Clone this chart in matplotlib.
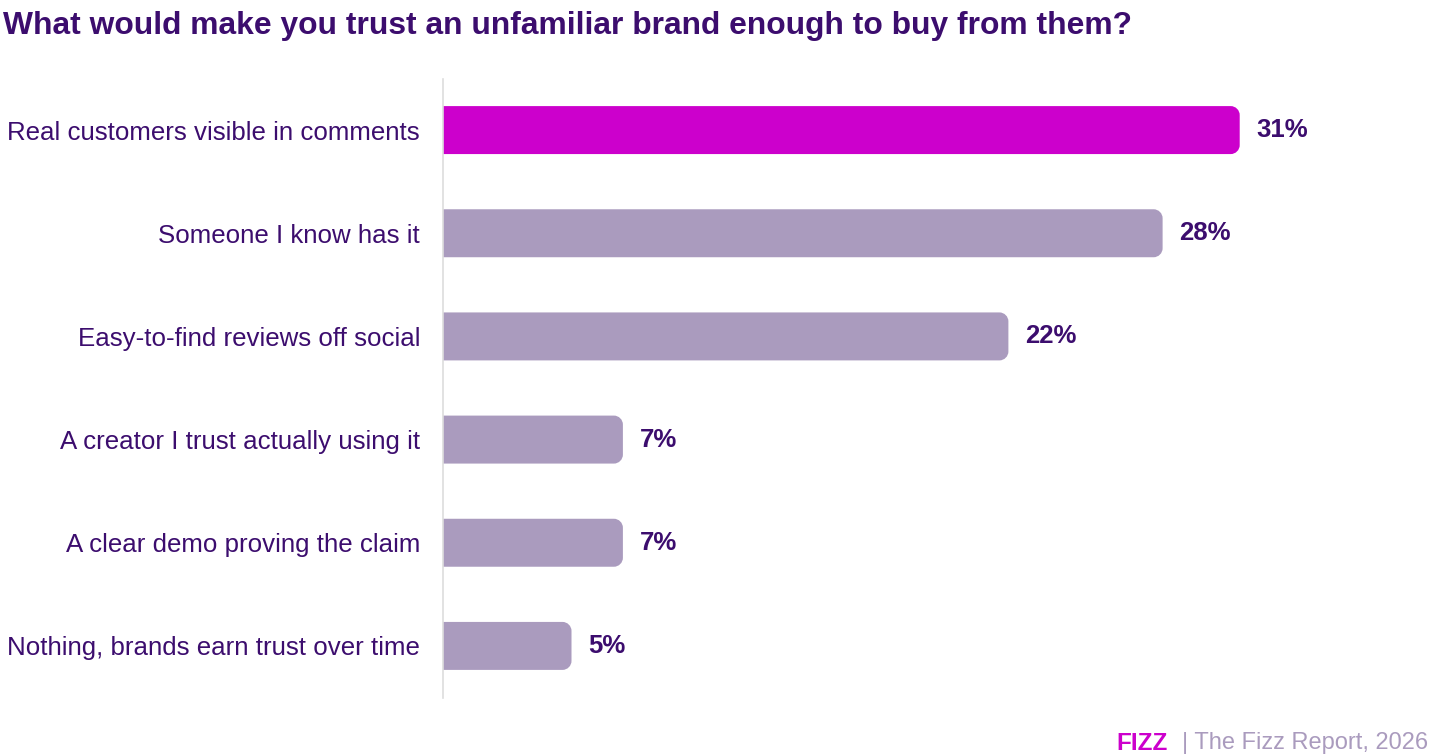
import matplotlib.pyplot as plt
from matplotlib.patches import PathPatch
from matplotlib.path import Path

plt.rcParams['font.family'] = ['Liberation Sans', 'DejaVu Sans']

# data
categories = [
    "Real customers visible in comments",
    "Someone I know has it",
    "Easy-to-find reviews off social",
    "A creator I trust actually using it",
    "A clear demo proving the claim",
    "Nothing, brands earn trust over time",
]
values = [31, 28, 22, 7, 7, 5]
highlight = [True, False, False, False, False, False]

dark = "#3C0D6E"
magenta = "#CC00CC"
muted = "#AA9BBE"

W, H = 1440, 756
fig = plt.figure(figsize=(W / 100, H / 100), dpi=100)
ax_left, ax_right = 443, 1440
ax_top, ax_bottom = 78.5, 697.5
ax = fig.add_axes([ax_left / W, 1 - ax_bottom / H,
                   (ax_right - ax_left) / W, (ax_bottom - ax_top) / H])

px_per_unit = 25.7
xmax = (ax_right - ax_left) / px_per_unit
ax.set_xlim(0, xmax)
ax.set_ylim(len(values) - 0.5, -0.5)
y_px_per_unit = (ax_bottom - ax_top) / len(values)

bar_h = 0.465
colors = [magenta if h else muted for h in highlight]
bars = ax.barh(range(len(values)), values, height=bar_h, color=colors)

# replace each bar by a shape with rounded right-hand corners
rx = 9 / px_per_unit
ry = 9 / y_px_per_unit
k = 0.5523
for b, c in zip(bars, colors):
    x0, y0, w, h = b.get_x(), b.get_y(), b.get_width(), b.get_height()
    x1, y1 = x0 + w, y0 + h
    b.set_visible(False)
    verts = [(x0, y0), (x1 - rx, y0),
             (x1 - rx + k * rx, y0), (x1, y0 + ry - k * ry), (x1, y0 + ry),
             (x1, y1 - ry),
             (x1, y1 - ry + k * ry), (x1 - rx + k * rx, y1), (x1 - rx, y1),
             (x0, y1), (x0, y0)]
    codes = [Path.MOVETO, Path.LINETO,
             Path.CURVE4, Path.CURVE4, Path.CURVE4,
             Path.LINETO,
             Path.CURVE4, Path.CURVE4, Path.CURVE4,
             Path.LINETO, Path.CLOSEPOLY]
    ax.add_patch(PathPatch(Path(verts, codes), fc=c, ec="none"))

for i, v in enumerate(values):
    ax.text(v + 17 / px_per_unit, i, f"{v}%", va="center", ha="left",
            fontsize=18.5, fontweight="bold", color=dark)

ax.set_yticks(range(len(values)))
ax.set_yticklabels(categories, fontsize=18.6, color=dark)
ax.tick_params(axis="y", length=0, pad=16.5)
ax.set_xticks([])
for s in ["top", "right", "bottom"]:
    ax.spines[s].set_visible(False)
ax.spines["left"].set_color("#DDDDDD")
ax.spines["left"].set_linewidth(1.2)
ax.spines["left"].set_zorder(3)

fig.text(3 / W, 1 - 26 / H,
         "What would make you trust an unfamiliar brand enough to buy from them?",
         fontsize=22.9, fontweight="bold", color=dark, ha="left", va="center")

t = fig.text(1428 / W, 1 - 743 / H, "| The Fizz Report, 2026", fontsize=17,
             color=muted, ha="right", va="center")
fig.canvas.draw()
bb = t.get_window_extent()
fig.text((bb.x0 - 14) / W, 1 - 743 / H, "FIZZ", fontsize=17.5, fontweight="bold",
         color=magenta, ha="right", va="center")

fig.savefig("out.png", dpi=100)
